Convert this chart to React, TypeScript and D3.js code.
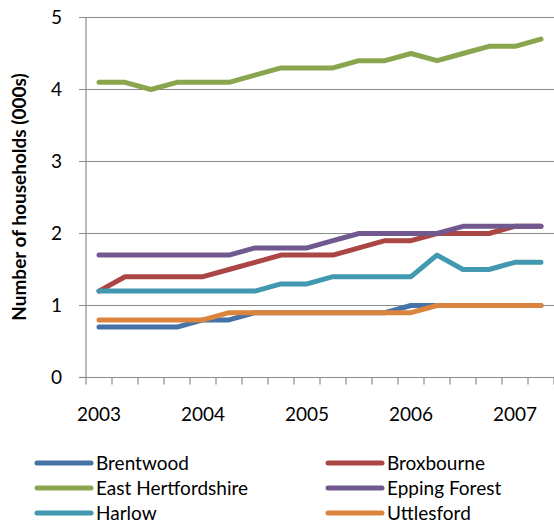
import React, { useEffect, useRef } from 'react';
import * as d3 from 'd3';

// quarters from 2003 Q1 to 2007 Q2
const quarters = [
  '2003', '', '', '', '2004', '', '', '', '2005', '', '', '', '2006', '', '', '', '2007', '',
];

const brentwood = [0.7, 0.7, 0.7, 0.7, 0.8, 0.8, 0.9, 0.9, 0.9, 0.9, 0.9, 0.9, 1.0, 1.0, 1.0, 1.0, 1.0, 1.0];
const broxbourne = [1.2, 1.4, 1.4, 1.4, 1.4, 1.5, 1.6, 1.7, 1.7, 1.7, 1.8, 1.9, 1.9, 2.0, 2.0, 2.0, 2.1, 2.1];
const eastHerts = [4.1, 4.1, 4.0, 4.1, 4.1, 4.1, 4.2, 4.3, 4.3, 4.3, 4.4, 4.4, 4.5, 4.4, 4.5, 4.6, 4.6, 4.7];
const eppingForest = [1.7, 1.7, 1.7, 1.7, 1.7, 1.7, 1.8, 1.8, 1.8, 1.9, 2.0, 2.0, 2.0, 2.0, 2.1, 2.1, 2.1, 2.1];
const harlow = [1.2, 1.2, 1.2, 1.2, 1.2, 1.2, 1.2, 1.3, 1.3, 1.4, 1.4, 1.4, 1.4, 1.7, 1.5, 1.5, 1.6, 1.6];
const uttlesford = [0.8, 0.8, 0.8, 0.8, 0.8, 0.9, 0.9, 0.9, 0.9, 0.9, 0.9, 0.9, 0.9, 1.0, 1.0, 1.0, 1.0, 1.0];

const seriesNames = ['Brentwood', 'Broxbourne', 'East Hertfordshire', 'Epping Forest', 'Harlow', 'Uttlesford'];
const seriesValues = [brentwood, broxbourne, eastHerts, eppingForest, harlow, uttlesford];
const seriesColors = ['#4572A7', '#AA4643', '#89A54E', '#71588F', '#4198AF', '#DB843D'];

const yTicks = [0, 1, 2, 3, 4, 5];

const App: React.FC = () => {
  const svgRef = useRef<SVGSVGElement>(null);

  useEffect(() => {
    const width = 554;
    const height = 525;
    const font = 'Lato, "Open Sans", sans-serif';

    const svg = d3.select(svgRef.current)
      .attr('width', width)
      .attr('height', height);
    svg.selectAll('*').remove();

    const x = d3.scaleBand<number>()
      .domain(quarters.map((_, i) => i))
      .range([86, 554])
      .padding(0);
    const y = d3.scaleLinear().domain([0, 5]).range([377.5, 17.5]);
    const cx = (i: number) => (x(i) as number) + x.bandwidth() / 2;

    // gridlines
    svg.append('g')
      .selectAll('line')
      .data(yTicks.slice(1))
      .enter().append('line')
      .attr('x1', 79).attr('x2', width)
      .attr('y1', d => y(d)).attr('y2', d => y(d))
      .attr('stroke', '#8a8a8a')
      .attr('stroke-width', 1.2);

    // y axis
    svg.append('line')
      .attr('x1', 86).attr('x2', 86)
      .attr('y1', y(5)).attr('y2', y(0))
      .attr('stroke', '#8a8a8a').attr('stroke-width', 1.2);
    svg.append('line')
      .attr('x1', 79).attr('x2', 86)
      .attr('y1', y(0)).attr('y2', y(0))
      .attr('stroke', '#8a8a8a').attr('stroke-width', 1.2);

    svg.append('g')
      .selectAll('text')
      .data(yTicks)
      .enter().append('text')
      .attr('x', 62)
      .attr('y', d => y(d))
      .attr('dy', '0.35em')
      .attr('text-anchor', 'end')
      .attr('font-family', font)
      .attr('font-size', 19)
      .attr('fill', '#000')
      .text(d => d);

    // x axis
    svg.append('line')
      .attr('x1', 86).attr('x2', width)
      .attr('y1', y(0)).attr('y2', y(0))
      .attr('stroke', '#8a8a8a').attr('stroke-width', 1.2);

    const boundaries = d3.range(quarters.length + 1).map(k => 86 + k * x.bandwidth());
    svg.append('g')
      .selectAll('line')
      .data(boundaries)
      .enter().append('line')
      .attr('x1', d => d).attr('x2', d => d)
      .attr('y1', y(0)).attr('y2', y(0) + 7)
      .attr('stroke', '#8a8a8a').attr('stroke-width', 1.2);

    svg.append('g')
      .selectAll('text')
      .data(quarters.map((label, i) => ({ label, i })).filter(d => d.label !== ''))
      .enter().append('text')
      .attr('x', d => cx(d.i))
      .attr('y', 421)
      .attr('text-anchor', 'middle')
      .attr('font-family', font)
      .attr('font-size', 19)
      .attr('fill', '#000')
      .text(d => d.label);

    // y axis title
    svg.append('text')
      .attr('transform', 'translate(26,197) rotate(-90)')
      .attr('text-anchor', 'middle')
      .attr('font-family', font)
      .attr('font-size', 19)
      .attr('font-weight', 'bold')
      .attr('fill', '#000')
      .text('Number of households (000s)');

    // lines
    const line = d3.line<number>()
      .x((_, i) => cx(i))
      .y(d => y(d));

    svg.append('g')
      .selectAll('path')
      .data(seriesValues)
      .enter().append('path')
      .attr('d', d => line(d))
      .attr('fill', 'none')
      .attr('stroke', (_, i) => seriesColors[i])
      .attr('stroke-width', 5)
      .attr('stroke-linecap', 'round')
      .attr('stroke-linejoin', 'round');

    // legend, two columns
    const legend = svg.append('g')
      .selectAll('g')
      .data(seriesNames)
      .enter().append('g')
      .attr('transform', (_, i) => `translate(${i % 2 === 0 ? 37 : 328},${463 + Math.floor(i / 2) * 25})`);

    legend.append('line')
      .attr('x1', 0).attr('x2', 54)
      .attr('y1', 0).attr('y2', 0)
      .attr('stroke', (_, i) => seriesColors[i])
      .attr('stroke-width', 5)
      .attr('stroke-linecap', 'round');

    legend.append('text')
      .attr('x', 59)
      .attr('y', 0)
      .attr('dy', '0.35em')
      .attr('font-family', font)
      .attr('font-size', 19)
      .attr('fill', '#000')
      .text(d => d);
  }, []);

  return (
    <svg ref={svgRef} style={{ position: 'absolute', left: 0, top: 0, background: '#fff' }}></svg>
  );
};

export default App;
